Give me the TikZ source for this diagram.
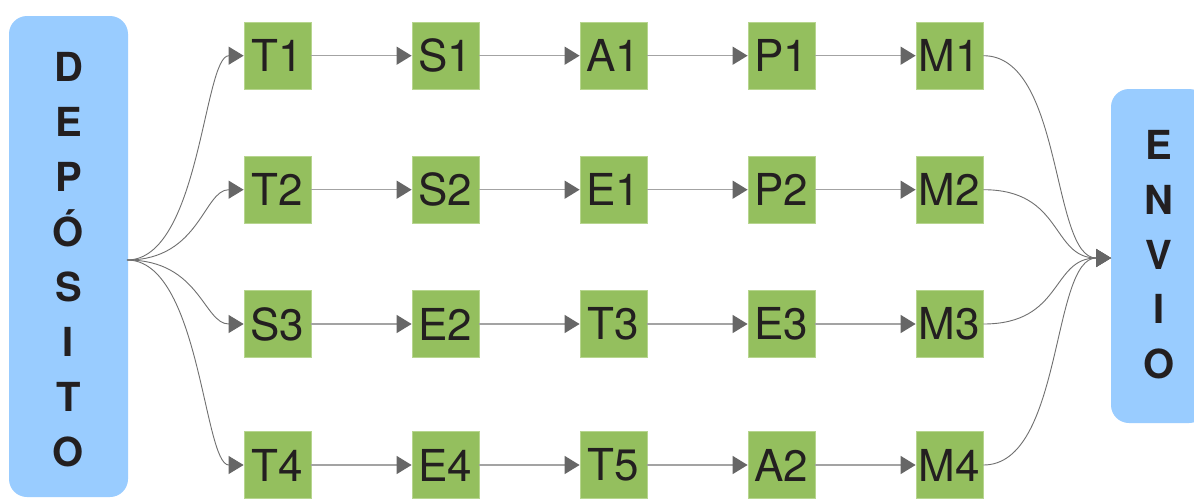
\documentclass[tikz,border=0pt]{standalone}
\usepackage{fontspec}
\setmainfont{TeX Gyre Heros}
\usetikzlibrary{arrows.meta}

\definecolor{taskgreen}{HTML}{94BF5E}
\definecolor{taskrim}{HTML}{B7D58F}
\definecolor{panelblue}{HTML}{99CCFF}
\definecolor{ink}{HTML}{231F20}
\definecolor{flowgrey}{HTML}{A3A3A3}
\definecolor{fangrey}{HTML}{707070}
\definecolor{tipgrey}{HTML}{666666}

\tikzset{
  task/.style={rectangle, fill=taskgreen, draw=taskrim, line width=0.8pt,
    minimum size=67pt, inner sep=0pt, text=ink, font=\fontsize{44}{44}\selectfont},
  panel/.style={rectangle, fill=panelblue, rounded corners=18pt, inner sep=0pt},
  panelletter/.style={anchor=base, inner sep=0pt, text=ink,
    font=\bfseries\fontsize{40}{40}\selectfont},
  headtip/.style={-{Triangle[length=15pt,width=18pt,color=tipgrey]}},
  flow/.style={headtip, draw=flowgrey, line width=1.4pt},
  fan/.style={headtip, draw=fangrey, line width=0.9pt},
}

\begin{document}
\begin{tikzpicture}[x=1pt,y=-1pt]
  \useasboundingbox (0,0) rectangle (1194,498);
  \fill[white] (0,0) rectangle (1194,498);

  % side panels
  \node[panel, minimum width=119pt, minimum height=481pt] (depot) at (68.5,256.5) {};
  \node[panel, minimum width=96pt, minimum height=334pt] (envio) at (1159,256) {};

  % vertical captions of the panels
  \foreach \ch [count=\i from 0] in {D,E,P,Ó,S,I,T,O}
    \node[panelletter] (dep-\i) at (68.5,{81.8+54.93*\i}) {\ch};
  \foreach \ch [count=\i from 0] in {E,N,V,I,O}
    \node[panelletter] (env-\i) at (1159,{159.8+54.7*\i}) {\ch};

  % task grid
  \node[task] (T1) at (277.5,55.7) {T1};
  \node[task] (S1) at (445.5,55.7) {S1};
  \node[task] (A1) at (613.5,55.7) {A1};
  \node[task] (P1) at (781.5,55.7) {P1};
  \node[task] (M1) at (949.5,55.7) {M1};

  \node[task] (T2) at (277.5,189.7) {T2};
  \node[task] (S2) at (445.5,189.7) {S2};
  \node[task] (E1) at (613.5,189.7) {E1};
  \node[task] (P2) at (781.5,189.7) {P2};
  \node[task] (M2) at (949.5,189.7) {M2};

  \node[task] (S3) at (277.5,324) {S3};
  \node[task] (E2) at (445.5,324) {E2};
  \node[task] (T3) at (613.5,324) {T3};
  \node[task] (E3) at (781.5,324) {E3};
  \node[task] (M3) at (949.5,324) {M3};

  \node[task] (T4) at (277.5,465) {T4};
  \node[task] (E4) at (445.5,465) {E4};
  \node[task] (T5) at (613.5,465) {T5};
  \node[task] (A2) at (781.5,465) {A2};
  \node[task] (M4) at (949.5,465) {M4};

  % straight flow along each row
  \foreach \a/\b in {T1/S1,S1/A1,A1/P1,P1/M1,
                     T2/S2,S2/E1,E1/P2,P2/M2,
                     S3/E2,E2/T3,T3/E3,E3/M3,
                     T4/E4,E4/T5,T5/A2,A2/M4}
    \draw[flow] (\a) -- (\b);

  % fan-out from the depot and fan-in to shipping
  \coordinate (fanL) at (127,260);
  \coordinate (fanR) at (1111,258);
  \foreach \t in {T1,T2,S3,T4}
    \draw[fan] (fanL) .. controls +(73,0) and +(-40,0) .. (\t.west);
  \foreach \m in {M1,M2,M3,M4}
    \draw[fan] (\m.east) .. controls +(80,0) and +(-60,0) .. (fanR);
\end{tikzpicture}
\end{document}
